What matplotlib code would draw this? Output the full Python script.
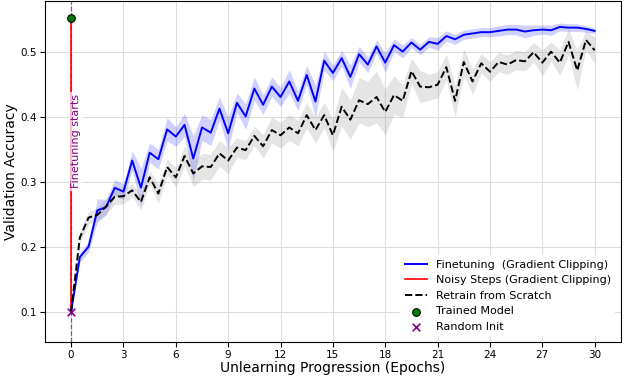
import numpy as np
import matplotlib
matplotlib.use("Agg")
import matplotlib.pyplot as plt

# epochs (half-epoch evaluation points)
epochs = np.arange(0, 30.5, 0.5)

# Finetuning (Gradient Clipping) - mean and spread
finetune_mean = [0.100, 0.184, 0.200, 0.256, 0.261, 0.291, 0.285, 0.333, 0.291, 0.345,
                 0.335, 0.381, 0.370, 0.388, 0.336, 0.384, 0.376, 0.413, 0.375, 0.422,
                 0.401, 0.444, 0.419, 0.447, 0.431, 0.455, 0.425, 0.465, 0.424, 0.487,
                 0.468, 0.491, 0.462, 0.497, 0.481, 0.509, 0.484, 0.511, 0.501, 0.515,
                 0.504, 0.516, 0.513, 0.525, 0.520, 0.527, 0.529, 0.531, 0.531, 0.533,
                 0.535, 0.535, 0.532, 0.534, 0.535, 0.534, 0.539, 0.538, 0.538, 0.536,
                 0.533]
finetune_std = [0.000, 0.008, 0.008, 0.018, 0.012, 0.012, 0.012, 0.015, 0.030, 0.015,
                0.015, 0.018, 0.015, 0.018, 0.035, 0.020, 0.020, 0.018, 0.025, 0.015,
                0.020, 0.018, 0.015, 0.015, 0.015, 0.018, 0.015, 0.015, 0.025, 0.015,
                0.012, 0.012, 0.018, 0.012, 0.012, 0.010, 0.015, 0.010, 0.010, 0.008,
                0.008, 0.008, 0.010, 0.008, 0.008, 0.007, 0.007, 0.007, 0.007, 0.008,
                0.008, 0.008, 0.010, 0.008, 0.007, 0.008, 0.006, 0.006, 0.006, 0.005,
                0.004]

# Retrain from scratch - mean and spread
retrain_mean = [0.100, 0.214, 0.245, 0.249, 0.262, 0.277, 0.278, 0.287, 0.269, 0.307,
                0.282, 0.323, 0.307, 0.340, 0.313, 0.324, 0.323, 0.344, 0.333, 0.353,
                0.349, 0.371, 0.355, 0.380, 0.372, 0.384, 0.375, 0.403, 0.380, 0.403,
                0.372, 0.416, 0.396, 0.426, 0.420, 0.431, 0.408, 0.434, 0.425, 0.471,
                0.447, 0.446, 0.450, 0.477, 0.425, 0.485, 0.455, 0.483, 0.470, 0.485,
                0.481, 0.488, 0.486, 0.500, 0.484, 0.501, 0.484, 0.516, 0.472, 0.519,
                0.503]
retrain_std = [0.000, 0.008, 0.010, 0.010, 0.012, 0.012, 0.012, 0.010, 0.012, 0.010,
               0.015, 0.012, 0.015, 0.015, 0.020, 0.020, 0.020, 0.020, 0.020, 0.015,
               0.015, 0.015, 0.018, 0.020, 0.020, 0.020, 0.020, 0.020, 0.020, 0.020,
               0.025, 0.030, 0.030, 0.035, 0.035, 0.040, 0.035, 0.030, 0.025, 0.020,
               0.025, 0.020, 0.020, 0.020, 0.025, 0.020, 0.020, 0.015, 0.015, 0.015,
               0.015, 0.015, 0.015, 0.015, 0.020, 0.015, 0.020, 0.020, 0.030, 0.015,
               0.020]

# reference points
trained_acc = 0.553
random_acc = 0.100
noisy_steps = [random_acc, trained_acc]

finetune_mean = np.array(finetune_mean)
finetune_std = np.array(finetune_std)
retrain_mean = np.array(retrain_mean)
retrain_std = np.array(retrain_std)

fig = plt.figure(figsize=(6.24, 3.78), dpi=100)
ax = fig.add_axes([0.072, 0.0952, 0.923, 0.902])

ax.axvline(0, color="purple", linestyle="--", linewidth=0.9, alpha=0.7, zorder=1)

ax.plot(epochs, finetune_mean, color="blue", linewidth=1.4,
        label="Finetuning  (Gradient Clipping)", zorder=4)
ax.fill_between(epochs, finetune_mean - finetune_std, finetune_mean + finetune_std,
                color="blue", alpha=0.18, linewidth=0, zorder=2)

ax.plot([0, 0], noisy_steps, color="red", linewidth=1.2,
        label="Noisy Steps (Gradient Clipping)", zorder=3)

ax.plot(epochs, retrain_mean, color="black", linestyle="--", linewidth=1.4,
        label="Retrain from Scratch", zorder=4)
ax.fill_between(epochs, retrain_mean - retrain_std, retrain_mean + retrain_std,
                color="gray", alpha=0.2, linewidth=0, zorder=2)

ax.scatter([0], [trained_acc], color="green", edgecolor="black", s=30,
           linewidth=0.8, label="Trained Model", zorder=5)
ax.scatter([0], [random_acc], color="purple", marker="x", s=30,
           linewidth=1.2, label="Random Init", zorder=5)

ax.text(0.3, 0.29, "Finetuning starts", rotation=90, color="purple",
        fontsize=8, ha="center", va="bottom", zorder=6,
        bbox=dict(facecolor="white", alpha=0.7, edgecolor="none", pad=1.5))

ax.set_xlim(-1.5, 31.5)
ax.set_ylim(0.053, 0.579)
ax.set_xticks(np.arange(0, 31, 3))
ax.set_yticks([0.1, 0.2, 0.3, 0.4, 0.5])
ax.tick_params(labelsize=7.5, pad=2)
ax.grid(True, color="#dddddd", linewidth=0.8)
ax.set_axisbelow(True)

ax.set_xlabel("Unlearning Progression (Epochs)", fontsize=10, labelpad=1)
ax.set_ylabel("Validation Accuracy", fontsize=10, labelpad=2)

leg = ax.legend(loc="lower right", fontsize=8, frameon=True, framealpha=1,
                edgecolor="none", facecolor="white")

plt.savefig("out.png", dpi=100)
